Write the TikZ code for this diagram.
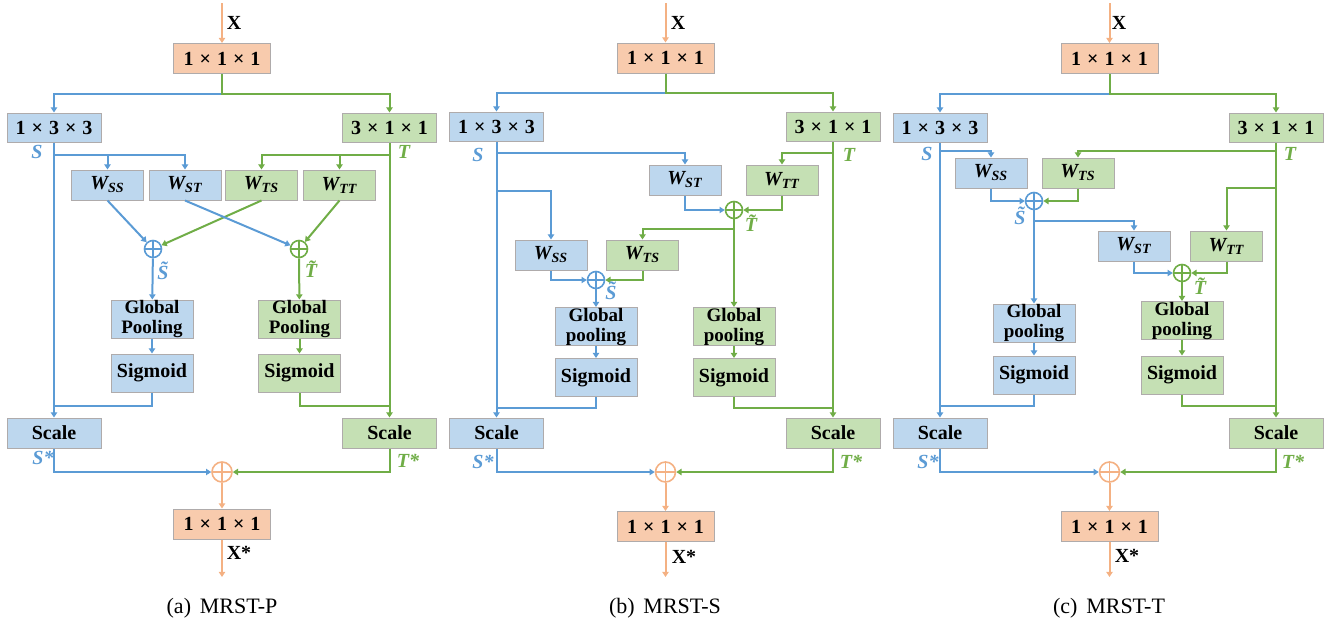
\documentclass[tikz,border=0pt]{standalone}
\usepackage{fontspec}
\setmainfont{Liberation Serif}[
  BoldFont={Liberation Serif Bold},
  ItalicFont={Liberation Serif Italic},
  BoldItalicFont={Liberation Serif Bold Italic}]
\usetikzlibrary{arrows.meta}
\definecolor{bfill}{HTML}{BDD7EE}
\definecolor{gfill}{HTML}{C5E0B4}
\definecolor{ofill}{HTML}{F8CBAD}
\definecolor{bline}{HTML}{5B9BD5}
\definecolor{gline}{HTML}{70AD47}
\definecolor{oline}{HTML}{F4B183}
\definecolor{edge}{HTML}{AFABAB}
\newcommand{\kdims}[3]{#1\hspace{0.3em}×\hspace{0.3em}#2\hspace{0.3em}×\hspace{0.3em}#3}
\newcommand{\wlab}[1]{W\textsubscript{#1}}
\tikzset{
  blk/.style={draw=edge, line width=0.5pt, inner sep=0pt, align=center,
    font=\fontsize{10}{11}\selectfont\bfseries},
  sbox/.style={blk, fill=bfill},
  tbox/.style={blk, fill=gfill},
  obox/.style={blk, fill=ofill, minimum width=48.5pt, minimum height=15pt},
  convbox/.style={minimum width=47pt, minimum height=14.5pt},
  wbox/.style={minimum width=36pt, minimum height=15pt,
    font=\fontsize{10}{11}\selectfont\bfseries\itshape},
  gpbox/.style={minimum width=41pt, minimum height=19pt,
    font=\fontsize{9.5}{10}\selectfont\bfseries},
  sigbox/.style={minimum width=41pt, minimum height=19pt},
  sclbox/.style={minimum width=47pt, minimum height=15pt},
  bpath/.style={draw=bline, line width=1pt},
  gpath/.style={draw=gline, line width=1pt},
  opath/.style={draw=oline, line width=1pt},
  arr/.style={-{Triangle[length=2.6pt,width=3.2pt]}},
  sumnode/.style={circle, draw=#1, line width=0.8pt, minimum size=8.5pt, inner sep=0pt,
    path picture={\draw[#1, line width=0.8pt]
      (path picture bounding box.north) -- (path picture bounding box.south)
      (path picture bounding box.west) -- (path picture bounding box.east);}},
  osum/.style={sumnode=oline, minimum size=10pt},
  lab/.style={inner sep=0pt, font=\fontsize{10}{11}\selectfont\bfseries\itshape},
  slab/.style={lab, text=bline},
  tlab/.style={lab, text=gline},
  xlab/.style={inner sep=0pt, font=\fontsize{10}{11}\selectfont\bfseries},
  captxt/.style={inner sep=0pt, font=\fontsize{11}{12}\selectfont},
}
\begin{document}
\begin{tikzpicture}[x=0.5pt,y=-0.5pt]
\useasboundingbox (0,0) rectangle (1333,627);

%% ---------------- (a) MRST-P : parallel ----------------
\node[obox] (a-top) at (222,58.5) {\kdims111};
\node[sbox,convbox] (a-s) at (54,127.5) {\kdims133};
\node[tbox,convbox] (a-t) at (389.5,127.5) {\kdims311};
\node[sbox,wbox] (a-wss) at (107.5,185) {\wlab{SS}};
\node[sbox,wbox] (a-wst) at (185,185) {\wlab{ST}};
\node[tbox,wbox] (a-wts) at (261.5,185) {\wlab{TS}};
\node[tbox,wbox] (a-wtt) at (339.5,185) {\wlab{TT}};
\node[sumnode=bline] (a-ps) at (153,249) {};
\node[sumnode=gline] (a-pt) at (299,249) {};
\node[sbox,gpbox] (a-gps) at (152,319) {Global\\Pooling};
\node[tbox,gpbox] (a-gpt) at (299.5,319) {Global\\Pooling};
\node[sbox,sigbox] (a-sigs) at (152,373) {Sigmoid};
\node[tbox,sigbox] (a-sigt) at (299.5,373) {Sigmoid};
\node[sbox,sclbox] (a-scs) at (54,433) {Scale};
\node[tbox,sclbox] (a-sct) at (389.5,433) {Scale};
\node[osum] (a-po) at (222,472) {};
\node[obox] (a-bot) at (222,524) {\kdims111};
\coordinate (a-in) at (222,3);
\coordinate (a-split) at (222,94);
\coordinate (a-out) at (222,577);
\coordinate (a-b1) at (54,155);
\coordinate (a-g1) at (389.5,155);
\coordinate (a-js) at (54,406);
\coordinate (a-jt) at (389.5,406);

\draw[opath,arr] (a-in) -- (a-top);
\draw[bpath,arr] (a-split) -| (a-s);
\draw[gpath,arr] (a-top) -- (a-split) -| (a-t);
\draw[bpath,arr] (a-s) -- (a-scs);
\draw[gpath,arr] (a-t) -- (a-sct);
\draw[bpath,arr] (a-b1) -| (a-wst);
\draw[bpath,arr] (a-wss.north |- a-b1) -- (a-wss);
\draw[gpath,arr] (a-g1) -| (a-wts);
\draw[gpath,arr] (a-wtt.north |- a-g1) -- (a-wtt);
\draw[bpath,arr] (a-wss.south) -- (a-ps);
\draw[gpath,arr] (a-wts.south) -- (a-ps);
\draw[bpath,arr] (a-wst.south) -- (a-pt);
\draw[gpath,arr] (a-wtt.south) -- (a-pt);
\draw[bpath,arr] (a-ps) -- (a-gps);
\draw[gpath,arr] (a-pt) -- (a-gpt);
\draw[bpath,arr] (a-gps) -- (a-sigs);
\draw[gpath,arr] (a-gpt) -- (a-sigt);
\draw[bpath] (a-sigs.south) |- (a-js);
\draw[gpath] (a-sigt.south) |- (a-jt);
\draw[bpath,arr] (a-scs.south) |- (a-po);
\draw[gpath,arr] (a-sct.south) |- (a-po);
\draw[opath,arr] (a-po) -- (a-bot);
\draw[opath,arr] (a-bot) -- (a-out);

\node[xlab] (a-lx) at (234,23) {X};
\node[slab] (a-ls) at (37,152) {S};
\node[tlab] (a-lt) at (404,152) {T};
\node[slab] (a-lst) at (163,271) {\~S};
\node[tlab] (a-ltt) at (311,269) {\~T};
\node[slab] (a-lss) at (43,458) {S*};
\node[tlab] (a-lts) at (408,461) {T*};
\node[xlab] (a-lxs) at (239,553) {X*};
\node[captxt] (a-cap) at (222,608) {(a)\hspace{0.4em}MRST-P};

%% ---------------- (b) MRST-S : spatial first ----------------
\node[obox] (b-top) at (665.5,58) {\kdims111};
\node[sbox,convbox] (b-s) at (496.5,126.5) {\kdims133};
\node[tbox,convbox] (b-t) at (833,126.5) {\kdims311};
\node[sbox,wbox] (b-wst) at (685,180) {\wlab{ST}};
\node[tbox,wbox] (b-wtt) at (782,180) {\wlab{TT}};
\node[sumnode=gline] (b-pt) at (734,210) {};
\node[sbox,wbox] (b-wss) at (551,255) {\wlab{SS}};
\node[tbox,wbox] (b-wts) at (642.5,255) {\wlab{TS}};
\node[sumnode=bline] (b-ps) at (596,280) {};
\node[sbox,gpbox] (b-gps) at (596,326.5) {Global\\pooling};
\node[tbox,gpbox] (b-gpt) at (734,326.5) {Global\\pooling};
\node[sbox,sigbox] (b-sigs) at (596,377.5) {Sigmoid};
\node[tbox,sigbox] (b-sigt) at (734,377.5) {Sigmoid};
\node[sbox,sclbox] (b-scs) at (496.5,433) {Scale};
\node[tbox,sclbox] (b-sct) at (833,433) {Scale};
\node[osum] (b-po) at (665.5,472) {};
\node[obox] (b-bot) at (665.5,526.5) {\kdims111};
\coordinate (b-in) at (665.5,3);
\coordinate (b-split) at (665.5,93);
\coordinate (b-out) at (665.5,577);
\coordinate (b-b1) at (496.5,153);
\coordinate (b-b2) at (496.5,191);
\coordinate (b-g1) at (833,153);
\coordinate (b-g2) at (734,229);
\coordinate (b-js) at (496.5,408);
\coordinate (b-jt) at (833,408);

\draw[opath,arr] (b-in) -- (b-top);
\draw[bpath,arr] (b-split) -| (b-s);
\draw[gpath,arr] (b-top) -- (b-split) -| (b-t);
\draw[bpath,arr] (b-s) -- (b-scs);
\draw[gpath,arr] (b-t) -- (b-sct);
\draw[bpath,arr] (b-b1) -| (b-wst);
\draw[bpath,arr] (b-b2) -| (b-wss);
\draw[gpath,arr] (b-g1) -| (b-wtt);
\draw[bpath,arr] (b-wst.south) |- (b-pt);
\draw[gpath,arr] (b-wtt.south) |- (b-pt);
\draw[gpath,arr] (b-pt) -- (b-gpt);
\draw[gpath,arr] (b-g2) -| (b-wts);
\draw[bpath,arr] (b-wss.south) |- (b-ps);
\draw[gpath,arr] (b-wts.south) |- (b-ps);
\draw[bpath,arr] (b-ps) -- (b-gps);
\draw[bpath,arr] (b-gps) -- (b-sigs);
\draw[gpath,arr] (b-gpt) -- (b-sigt);
\draw[bpath] (b-sigs.south) |- (b-js);
\draw[gpath] (b-sigt.south) |- (b-jt);
\draw[bpath,arr] (b-scs.south) |- (b-po);
\draw[gpath,arr] (b-sct.south) |- (b-po);
\draw[opath,arr] (b-po) -- (b-bot);
\draw[opath,arr] (b-bot) -- (b-out);

\node[xlab] (b-lx) at (678,23) {X};
\node[slab] (b-ls) at (478,155) {S};
\node[tlab] (b-lt) at (849,155) {T};
\node[tlab] (b-ltt) at (751,223) {\~T};
\node[slab] (b-lst) at (611,291) {\~S};
\node[slab] (b-lss) at (483,462) {S*};
\node[tlab] (b-lts) at (851,462) {T*};
\node[xlab] (b-lxs) at (684,557) {X*};
\node[captxt] (b-cap) at (665,608) {(b)\hspace{0.4em}MRST-S};

%% ---------------- (c) MRST-T : temporal first ----------------
\node[obox] (c-top) at (1109.5,58.5) {\kdims111};
\node[sbox,convbox] (c-s) at (940,127.5) {\kdims133};
\node[tbox,convbox] (c-t) at (1276,127.5) {\kdims311};
\node[sbox,wbox] (c-wss) at (991,173) {\wlab{SS}};
\node[tbox,wbox] (c-wts) at (1078,173) {\wlab{TS}};
\node[sumnode=bline] (c-ps) at (1034,201) {};
\node[sbox,wbox] (c-wst) at (1134,246) {\wlab{ST}};
\node[tbox,wbox] (c-wtt) at (1226.5,246) {\wlab{TT}};
\node[sumnode=gline] (c-pt) at (1182,273) {};
\node[sbox,gpbox] (c-gps) at (1034,323) {Global\\pooling};
\node[tbox,gpbox] (c-gpt) at (1182,320.5) {Global\\pooling};
\node[sbox,sigbox] (c-sigs) at (1034,375) {Sigmoid};
\node[tbox,sigbox] (c-sigt) at (1182,375) {Sigmoid};
\node[sbox,sclbox] (c-scs) at (940,433) {Scale};
\node[tbox,sclbox] (c-sct) at (1276,433) {Scale};
\node[osum] (c-po) at (1109.5,472) {};
\node[obox] (c-bot) at (1109.5,526.5) {\kdims111};
\coordinate (c-in) at (1109.5,3);
\coordinate (c-split) at (1109.5,94);
\coordinate (c-out) at (1109.5,577);
\coordinate (c-b1) at (940,151);
\coordinate (c-g1) at (1276,151);
\coordinate (c-g2) at (1276,188);
\coordinate (c-b2) at (1034,221);
\coordinate (c-js) at (940,406);
\coordinate (c-jt) at (1276,406);

\draw[opath,arr] (c-in) -- (c-top);
\draw[bpath,arr] (c-split) -| (c-s);
\draw[gpath,arr] (c-top) -- (c-split) -| (c-t);
\draw[bpath,arr] (c-s) -- (c-scs);
\draw[gpath,arr] (c-t) -- (c-sct);
\draw[bpath,arr] (c-b1) -| (c-wss);
\draw[gpath,arr] (c-g1) -| (c-wts);
\draw[gpath,arr] (c-g2) -| (c-wtt);
\draw[bpath,arr] (c-wss.south) |- (c-ps);
\draw[gpath,arr] (c-wts.south) |- (c-ps);
\draw[bpath,arr] (c-ps) -- (c-gps);
\draw[bpath,arr] (c-b2) -| (c-wst);
\draw[bpath,arr] (c-wst.south) |- (c-pt);
\draw[gpath,arr] (c-wtt.south) |- (c-pt);
\draw[gpath,arr] (c-pt) -- (c-gpt);
\draw[bpath,arr] (c-gps) -- (c-sigs);
\draw[gpath,arr] (c-gpt) -- (c-sigt);
\draw[bpath] (c-sigs.south) |- (c-js);
\draw[gpath] (c-sigt.south) |- (c-jt);
\draw[bpath,arr] (c-scs.south) |- (c-po);
\draw[gpath,arr] (c-sct.south) |- (c-po);
\draw[opath,arr] (c-po) -- (c-bot);
\draw[opath,arr] (c-bot) -- (c-out);

\node[xlab] (c-lx) at (1119,23) {X};
\node[slab] (c-ls) at (927,154) {S};
\node[tlab] (c-lt) at (1290,154) {T};
\node[slab] (c-lst) at (1020,216) {\~S};
\node[tlab] (c-ltt) at (1200,286) {\~T};
\node[slab] (c-lss) at (928,462) {S*};
\node[tlab] (c-lts) at (1293,462) {T*};
\node[xlab] (c-lxs) at (1127,556) {X*};
\node[captxt] (c-cap) at (1109,608) {(c)\hspace{0.4em}MRST-T};
\end{tikzpicture}
\end{document}
